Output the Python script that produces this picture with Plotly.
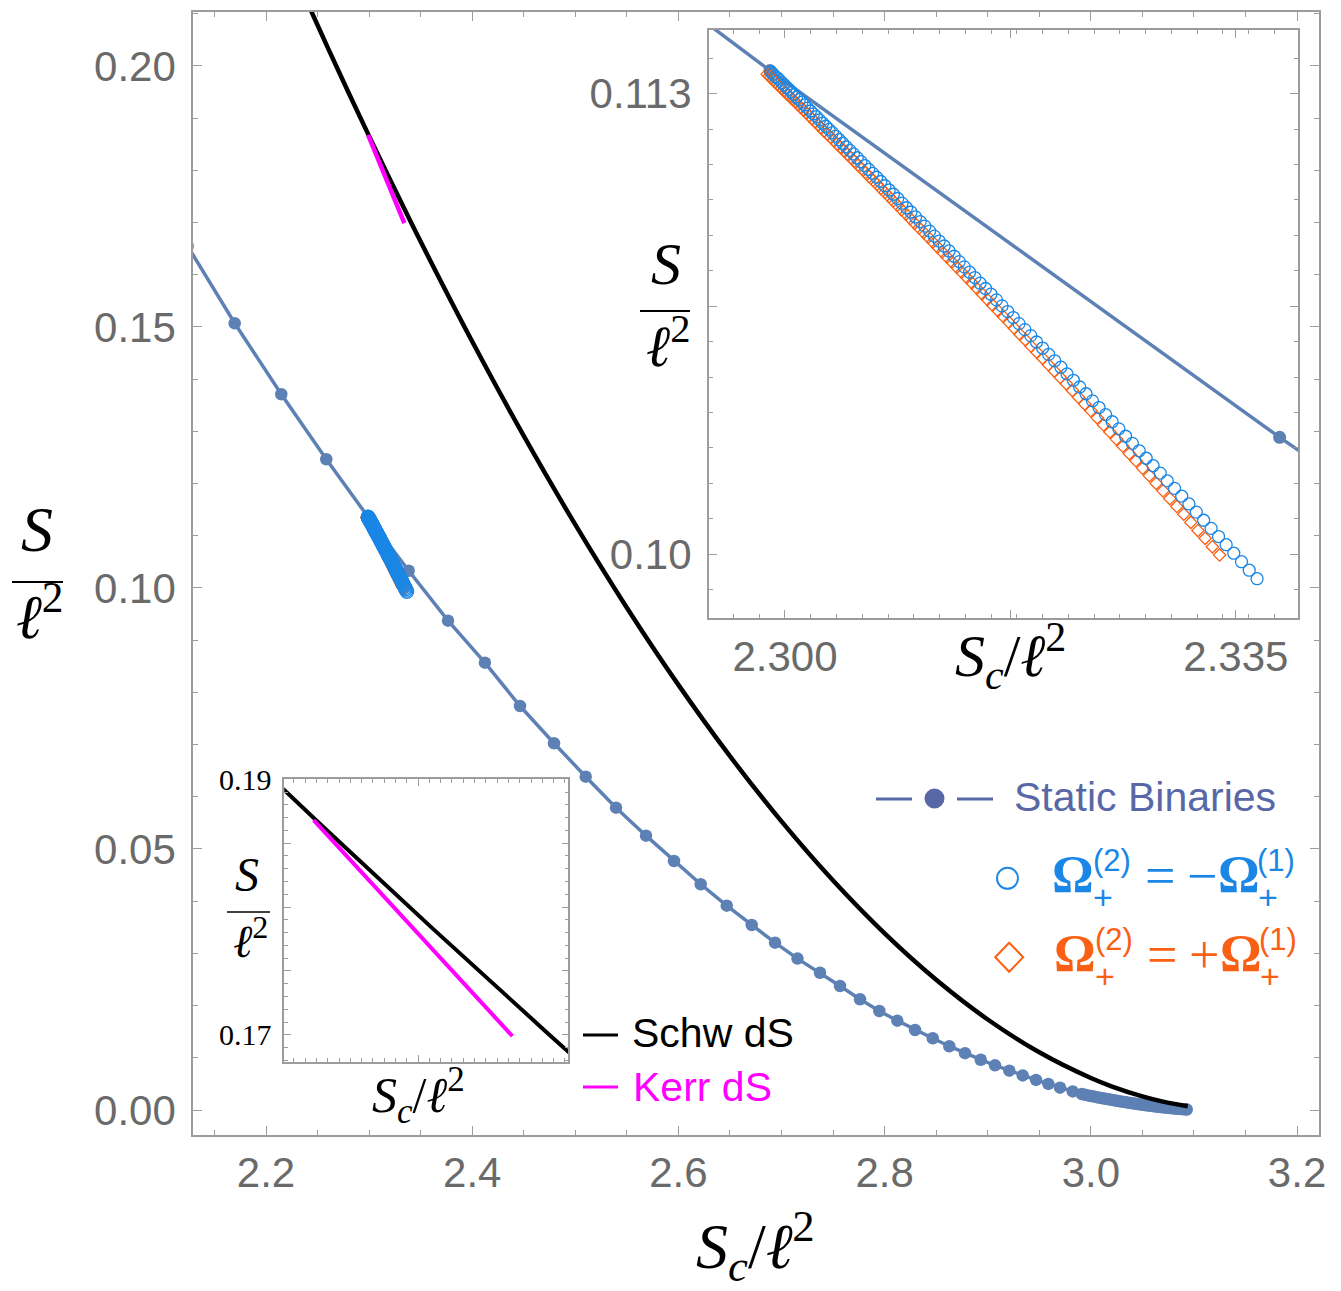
import plotly.graph_objects as go

W, H = 1341, 1291

# ---------------- data ----------------
static_x = [2.1240, 2.16964, 2.21484, 2.25849, 2.29883, 2.3384, 2.37653, 2.4123, 2.44636, 2.47934,
            2.51009, 2.53948, 2.56857, 2.59573, 2.62163, 2.64685, 2.67110, 2.69369, 2.7155, 2.73734,
            2.75674, 2.77614, 2.79486, 2.81232, 2.82949, 2.84665, 2.86275, 2.87798, 2.89321, 2.90708,
            2.92095, 2.93395, 2.94685, 2.95878, 2.97013, 2.98244,
            2.9912, 2.9942, 2.9972, 3.0001, 3.0030, 3.0059, 3.0087, 3.0115, 3.0143, 3.0170,
            3.0197, 3.0224, 3.0251, 3.0277, 3.0303, 3.0329, 3.0355, 3.0381, 3.0406, 3.0431,
            3.0456, 3.0481, 3.0506, 3.0530, 3.0554, 3.0578, 3.0602, 3.0626, 3.0650, 3.0673,
            3.0696, 3.0719, 3.0742, 3.0765, 3.0788, 3.0810, 3.0832, 3.0854, 3.0876, 3.0898,
            3.0919, 3.0930]
static_y = [0.1655, 0.15071, 0.13711, 0.12466, 0.11365, 0.1033, 0.09374, 0.0857, 0.07739, 0.07025,
            0.06385, 0.05791, 0.05255, 0.04770, 0.04324, 0.03914, 0.03544, 0.03205, 0.0290, 0.02630,
            0.02375, 0.02121, 0.01897, 0.01711, 0.01533, 0.01374, 0.01222, 0.01088, 0.00963, 0.00855,
            0.00753, 0.00662, 0.00577, 0.00500, 0.00428, 0.00356,
            0.00305, 0.00292, 0.00280, 0.00268, 0.00257, 0.00246, 0.00235, 0.00224, 0.00214, 0.00204,
            0.00194, 0.00185, 0.00176, 0.00167, 0.00159, 0.00151, 0.00143, 0.00135, 0.00127, 0.00120,
            0.00113, 0.00106, 0.00099, 0.00092, 0.00086, 0.00080, 0.00074, 0.00068, 0.00062, 0.00057,
            0.00052, 0.00047, 0.00042, 0.00037, 0.00033, 0.00029, 0.00025, 0.00021, 0.00018, 0.00015,
            0.00012, 0.00010]

schw_x = [2.240, 2.260, 2.280, 2.300, 2.320, 2.340, 2.360, 2.400, 2.450, 2.500, 2.550, 2.600,
          2.650, 2.700, 2.750, 2.800, 2.850, 2.900, 2.950, 3.000, 3.020, 3.050, 3.070, 3.094]
schw_y = [0.21219, 0.20348, 0.19493, 0.18656, 0.17835, 0.17031, 0.16244, 0.14721, 0.12913, 0.11214,
          0.09623, 0.08144, 0.06778, 0.05528, 0.04395, 0.03383, 0.02495, 0.01734, 0.01105, 0.00612,
          0.00454, 0.00260, 0.00160, 0.00071]

kerr_x = [2.2990, 2.3080, 2.3170, 2.3260, 2.3342]
kerr_y = [0.18680, 0.18250, 0.17820, 0.17385, 0.16990]

# Omega_+^(2) = -Omega_+^(1)  (open circles)
anti_x = [2.29893, 2.29909, 2.29925, 2.29941, 2.29958, 2.29976, 2.29993, 2.30012, 2.30031, 2.30050,
          2.30070, 2.30090, 2.30111, 2.30132, 2.30153, 2.30175, 2.30198, 2.30221, 2.30244, 2.30268,
          2.30292, 2.30317, 2.30342, 2.30368, 2.30394, 2.30421, 2.30448, 2.30475, 2.30503, 2.30532,
          2.30561, 2.30590, 2.30620, 2.30650, 2.30681, 2.30712, 2.30744, 2.30776, 2.30809, 2.30842,
          2.30875, 2.30909, 2.30944, 2.30978, 2.31014, 2.31050, 2.31086, 2.31123, 2.31160, 2.31197,
          2.31236, 2.31274, 2.31313, 2.31353, 2.31392, 2.31433, 2.31474, 2.31515, 2.31557, 2.31599,
          2.31642, 2.31685, 2.31729, 2.31773, 2.31817, 2.31862, 2.31908, 2.31953, 2.32000, 2.32047,
          2.32094, 2.32142, 2.32190, 2.32239, 2.32288, 2.32337, 2.32387, 2.32438, 2.32489, 2.32540,
          2.32592, 2.32644, 2.32697, 2.32750, 2.32804, 2.32858, 2.32913, 2.32968, 2.33024, 2.33080,
          2.33136, 2.33193, 2.33250, 2.33308, 2.33366, 2.33425, 2.33484, 2.33544, 2.33604, 2.33665]
anti_y = [0.11361, 0.11355, 0.11348, 0.11344, 0.11338, 0.11331, 0.11325, 0.11318, 0.11312, 0.11305,
          0.11298, 0.11290, 0.11283, 0.11276, 0.11268, 0.11259, 0.11251, 0.11243, 0.11235, 0.11226,
          0.11217, 0.11208, 0.11199, 0.11190, 0.11180, 0.11170, 0.11160, 0.11150, 0.11140, 0.11130,
          0.11119, 0.11108, 0.11097, 0.11086, 0.11075, 0.11064, 0.11052, 0.11040, 0.11028, 0.11016,
          0.11004, 0.10991, 0.10978, 0.10966, 0.10952, 0.10939, 0.10926, 0.10912, 0.10898, 0.10884,
          0.10870, 0.10856, 0.10841, 0.10826, 0.10811, 0.10796, 0.10781, 0.10765, 0.10750, 0.10734,
          0.10718, 0.10701, 0.10685, 0.10668, 0.10651, 0.10634, 0.10617, 0.10599, 0.10582, 0.10564,
          0.10546, 0.10528, 0.10509, 0.10491, 0.10472, 0.10453, 0.10433, 0.10414, 0.10394, 0.10374,
          0.10354, 0.10333, 0.10313, 0.10292, 0.10271, 0.10250, 0.10229, 0.10207, 0.10186, 0.10164,
          0.10142, 0.10119, 0.10096, 0.10073, 0.10050, 0.10027, 0.10003, 0.09979, 0.09955, 0.09931]

# Omega_+^(2) = +Omega_+^(1)  (open diamonds)
co_x = [2.29862, 2.29877, 2.29891, 2.29907, 2.29923, 2.29939, 2.29956, 2.29973, 2.29990, 2.30008,
        2.30026, 2.30045, 2.30065, 2.30084, 2.30104, 2.30125, 2.30146, 2.30167, 2.30189, 2.30211,
        2.30234, 2.30257, 2.30280, 2.30304, 2.30329, 2.30353, 2.30379, 2.30404, 2.30430, 2.30457,
        2.30484, 2.30511, 2.30539, 2.30567, 2.30596, 2.30625, 2.30654, 2.30684, 2.30715, 2.30745,
        2.30777, 2.30808, 2.30840, 2.30873, 2.30906, 2.30939, 2.30973, 2.31007, 2.31042, 2.31077,
        2.31112, 2.31148, 2.31184, 2.31221, 2.31258, 2.31296, 2.31334, 2.31372, 2.31411, 2.31451,
        2.31490, 2.31530, 2.31571, 2.31612, 2.31654, 2.31695, 2.31738, 2.31781, 2.31824, 2.31867,
        2.31911, 2.31956, 2.32001, 2.32046, 2.32092, 2.32138, 2.32184, 2.32232, 2.32279, 2.32327,
        2.32375, 2.32424, 2.32473, 2.32523, 2.32573, 2.32623, 2.32674, 2.32725, 2.32777, 2.32829,
        2.32882, 2.32935, 2.32988, 2.33042, 2.33096, 2.33151, 2.33206, 2.33262, 2.33318, 2.33374]
co_y = [0.11355, 0.11350, 0.11344, 0.11339, 0.11333, 0.11327, 0.11321, 0.11315, 0.11309, 0.11302,
        0.11296, 0.11289, 0.11282, 0.11275, 0.11268, 0.11260, 0.11253, 0.11245, 0.11237, 0.11229,
        0.11220, 0.11212, 0.11204, 0.11194, 0.11186, 0.11177, 0.11168, 0.11158, 0.11149, 0.11139,
        0.11129, 0.11119, 0.11109, 0.11098, 0.11088, 0.11077, 0.11066, 0.11055, 0.11044, 0.11032,
        0.11021, 0.11009, 0.10997, 0.10985, 0.10972, 0.10960, 0.10947, 0.10934, 0.10921, 0.10908,
        0.10895, 0.10881, 0.10867, 0.10853, 0.10839, 0.10825, 0.10810, 0.10796, 0.10781, 0.10766,
        0.10750, 0.10735, 0.10719, 0.10703, 0.10687, 0.10671, 0.10655, 0.10638, 0.10621, 0.10605,
        0.10587, 0.10570, 0.10553, 0.10535, 0.10517, 0.10499, 0.10481, 0.10462, 0.10443, 0.10424,
        0.10405, 0.10385, 0.10365, 0.10345, 0.10325, 0.10305, 0.10284, 0.10264, 0.10243, 0.10222,
        0.10200, 0.10179, 0.10157, 0.10135, 0.10113, 0.10090, 0.10067, 0.10045, 0.10021, 0.09998]

main_xticks = [2.2, 2.4, 2.6, 2.8, 3.0, 3.2]
main_xticktext = ["2.2", "2.4", "2.6", "2.8", "3.0", "3.2"]
main_yticks = [0.0, 0.05, 0.10, 0.15, 0.20]
main_yticktext = ["0.00", "0.05", "0.10", "0.15", "0.20"]
in1_xticks = [2.300, 2.335]
in1_xticktext = ["2.300", "2.335"]
in1_xticks_unlabeled = [2.3175]
in1_yticks = [0.100, 0.113]
in1_yticktext = ["0.10", "0.113"]
in1_yticks_unlabeled = [0.107]
in2_xticks_unlabeled = [2.3175]
in2_yticks = [0.17, 0.19]
in2_yticktext = ["0.17", "0.19"]
in2_yticks_unlabeled = [0.175, 0.18, 0.185]

# ---------------- styles ----------------
STATIC = "#5E81B5"
LEG_STATIC = "#5868A6"
BLUE = "#1A87E6"
ORANGE = "#FA6014"
MAGENTA = "#FF00FF"
FRAME = "#9C9C9C"
TICKTXT = "#6A6A6A"
SANS = "Liberation Sans, Arial, sans-serif"
SERIF = "Liberation Serif, DejaVu Serif, serif"


def px(x):
    return x / W


def py(y):
    return 1 - y / H


fig = go.Figure()


def add_static(xa, ya, msize, lw):
    fig.add_trace(go.Scatter(x=static_x, y=static_y, mode="lines+markers", xaxis=xa, yaxis=ya,
                             line=dict(color=STATIC, width=lw),
                             marker=dict(color=STATIC, size=msize), showlegend=False))


def add_omega(xa, ya, csize, dsize):
    fig.add_trace(go.Scatter(x=co_x, y=co_y, mode="markers", xaxis=xa, yaxis=ya,
                             marker=dict(symbol="diamond-open", color=ORANGE, size=dsize,
                                         line=dict(width=1.3, color=ORANGE)),
                             showlegend=False))
    fig.add_trace(go.Scatter(x=anti_x, y=anti_y, mode="markers", xaxis=xa, yaxis=ya,
                             marker=dict(symbol="circle-open", color=BLUE, size=csize,
                                         line=dict(width=1.3, color=BLUE)),
                             showlegend=False))


# main plot
add_static("x", "y", 12.5, 3.5)
add_omega("x", "y", 13.5, 10.5)
fig.add_trace(go.Scatter(x=schw_x, y=schw_y, mode="lines", xaxis="x", yaxis="y",
                         line=dict(color="black", width=4.5, shape="spline"), showlegend=False))
fig.add_trace(go.Scatter(x=kerr_x, y=kerr_y, mode="lines", xaxis="x", yaxis="y",
                         line=dict(color=MAGENTA, width=4.5), showlegend=False))

# inset 1 (top right)
add_static("x2", "y2", 13, 3.5)
add_omega("x2", "y2", 12, 9.5)

# inset 2 (bottom left)
fig.add_trace(go.Scatter(x=schw_x, y=schw_y, mode="lines", xaxis="x3", yaxis="y3",
                         line=dict(color="black", width=4, shape="spline"), showlegend=False))
fig.add_trace(go.Scatter(x=kerr_x, y=kerr_y, mode="lines", xaxis="x3", yaxis="y3",
                         line=dict(color=MAGENTA, width=4), showlegend=False))

# empty traces so the overlay tick axes are drawn
for xa, ya in [("x4", "y2"), ("x2", "y4"), ("x3", "y5")]:
    fig.add_trace(go.Scatter(x=[], y=[], xaxis=xa, yaxis=ya, showlegend=False, hoverinfo="skip"))


def axis(**kw):
    base = dict(showline=True, linecolor=FRAME, linewidth=1.5, mirror="ticks", ticks="inside",
                tickcolor=FRAME, tickwidth=1.2, ticklen=9, showgrid=False, zeroline=False,
                fixedrange=True, automargin=False)
    base.update(kw)
    return base


def minor(t0, dt, ln=5):
    return dict(ticks="inside", tick0=t0, dtick=dt, ticklen=ln, tickcolor=FRAME, tickwidth=1,
                showgrid=False)


IN1_XR = [2.29408, 2.33985]
IN1_YR = [0.09819, 0.11481]
IN2_XR = [2.2938, 2.3441]
IN2_YR = [0.1679, 0.19002]

fig.update_layout(
    width=W, height=H, margin=dict(l=0, r=0, t=0, b=0, autoexpand=False),
    paper_bgcolor="white", plot_bgcolor="white",
    xaxis=axis(domain=[px(193), px(1319)], range=[2.1292, 3.2213], anchor="y",
               tickmode="array", tickvals=main_xticks, ticktext=main_xticktext,
               tickfont=dict(family=SANS, size=42, color=TICKTXT), ticklabelstandoff=0,
               minor=minor(2.2, 0.05)),
    yaxis=axis(domain=[py(1135), py(12)], range=[-0.00479, 0.21034], anchor="x",
               tickmode="array", tickvals=main_yticks, ticktext=main_yticktext,
               tickfont=dict(family=SANS, size=42, color=TICKTXT), ticklabelstandoff=7,
               minor=minor(0.0, 0.01)),
    xaxis2=axis(domain=[px(708.7), px(1298.3)], range=IN1_XR, anchor="y2",
                tickmode="array", tickvals=in1_xticks, ticktext=in1_xticktext,
                tickfont=dict(family=SANS, size=42, color=TICKTXT), ticklabelstandoff=0,
                minor=minor(2.300, 0.002)),
    yaxis2=axis(domain=[py(618.4), py(29.5)], range=IN1_YR, anchor="x2",
                tickmode="array", tickvals=in1_yticks, ticktext=in1_yticktext,
                tickfont=dict(family=SANS, size=42, color=TICKTXT), ticklabelstandoff=7,
                minor=minor(0.100, 0.001)),
    xaxis4=axis(overlaying="x2", anchor="y2", range=IN1_XR, tickmode="array",
                tickvals=in1_xticks_unlabeled, showticklabels=False),
    yaxis4=axis(overlaying="y2", anchor="x2", range=IN1_YR, tickmode="array",
                tickvals=in1_yticks_unlabeled, showticklabels=False),
    xaxis3=axis(domain=[px(284.3), px(568.3)], range=IN2_XR, anchor="y3",
                tickmode="array", tickvals=in2_xticks_unlabeled, showticklabels=False,
                minor=minor(2.2955, 0.002, 4), ticklen=7),
    yaxis3=axis(domain=[py(1061.7), py(779)], range=IN2_YR, anchor="x3",
                tickmode="array", tickvals=in2_yticks, ticktext=in2_yticktext,
                tickfont=dict(family=SERIF, size=30, color="black"),
                ticklabelstandoff=5, minor=minor(0.168, 0.001, 4), ticklen=7),
    yaxis5=axis(overlaying="y3", anchor="x3", range=IN2_YR, tickmode="array",
                tickvals=in2_yticks_unlabeled, showticklabels=False, ticklen=7),
)

annotations = []
shapes = []


def text(x, y, s, size, color="black", family=SANS, xanchor="center"):
    annotations.append(dict(x=px(x), y=py(y), xref="paper", yref="paper", text=s, showarrow=False,
                            xanchor=xanchor, yanchor="middle",
                            font=dict(family=family, size=size, color=color)))


def hline(x0, x1, y, color, width):
    shapes.append(dict(type="line", xref="paper", yref="paper", x0=px(x0), x1=px(x1),
                       y0=py(y), y1=py(y), line=dict(color=color, width=width)))


SC = "<i>S</i><sub><i>c</i></sub>/<i>ℓ</i><sup>2</sup>"
L2 = "<i>ℓ</i><sup>2</sup>"

# axis titles
text(755, 1246, SC, 64, family=SERIF)
text(37, 530, "<i>S</i>", 64, family=SERIF)
hline(12, 63, 582, "black", 2)
text(40, 612, L2, 62, family=SERIF)

text(1010, 656, SC, 60, family=SERIF)
text(666, 264, "<i>S</i>", 60, family=SERIF)
hline(640, 690, 311, "black", 2)
text(668, 343, L2, 58, family=SERIF)

text(418, 1095, SC, 50, family=SERIF)
text(247, 874, "<i>S</i>", 48, family=SERIF)
hline(227, 270, 912, "black", 1.6)
text(250, 938, L2, 46, family=SERIF)

# legend: static binaries
hline(876, 912, 799, LEG_STATIC, 3)
hline(957, 993, 799, LEG_STATIC, 3)
shapes.append(dict(type="circle", xref="paper", yref="paper", x0=px(924.5), x1=px(944.5),
                   y0=py(808.5), y1=py(788.5), fillcolor=LEG_STATIC, line=dict(color=LEG_STATIC, width=0)))
text(1012, 797, "Static Binaries", 41, LEG_STATIC, xanchor="left")

# legend: Omega rows
shapes.append(dict(type="circle", xref="paper", yref="paper", x0=px(997), x1=px(1018),
                   y0=py(888.8), y1=py(867.8), line=dict(color=BLUE, width=2)))
cx, cy, hw, hh = 1009.2, 957.2, 14, 14.5
shapes.append(dict(type="path", xref="paper", yref="paper",
                   path=f"M {px(cx - hw)},{py(cy)} L {px(cx)},{py(cy - hh)} L {px(cx + hw)},{py(cy)} "
                        f"L {px(cx)},{py(cy + hh)} Z",
                   line=dict(color=ORANGE, width=2)))

for dy, sign, color, dx in [(0, "−", BLUE, 0), (79.2, "+", ORANGE, 2)]:
    text(1073 + dx, 874 + dy, "<b>Ω</b>", 52, color, SERIF)
    text(1112 + dx, 860 + dy, "(2)", 31, color, SANS)
    text(1103 + dx, 897 + dy, "+", 34, color, SANS)
    text(1160 + dx, 876 + dy, "=", 54, color, SERIF)
    text(1202 + dx, 876 + dy, sign, 54, color, SERIF)
    text(1239 + dx, 874 + dy, "<b>Ω</b>", 52, color, SERIF)
    text(1276 + dx, 860 + dy, "(1)", 31, color, SANS)
    text(1268 + dx, 897 + dy, "+", 34, color, SANS)

# legend: Schw / Kerr
hline(583, 618, 1035, "black", 3)
text(630, 1033, "Schw dS", 41, "black", xanchor="left")
hline(583, 618, 1087, MAGENTA, 3)
text(631, 1087, "Kerr dS", 41, MAGENTA, xanchor="left")

fig.update_layout(annotations=annotations, shapes=shapes)

fig.write_html("out.html")
